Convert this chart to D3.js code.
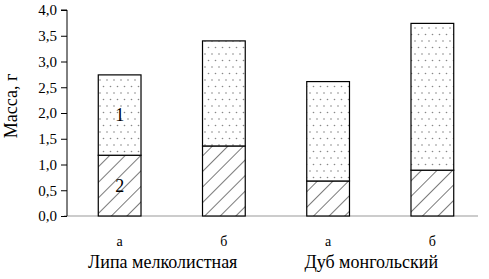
<!DOCTYPE html>
<html>
<head>
<meta charset="utf-8">
<script src="https://cdn.jsdelivr.net/npm/d3@7"></script>
<style>
  body { margin: 0; background: #fff; }
  svg text { font-family: "Liberation Serif", "DejaVu Serif", serif !important; fill: #000; }
</style>
</head>
<body>
<svg id="chart" width="489" height="279"></svg>
<script>
// data
const bars = ['а', 'б', 'а', 'б'];
const groups = ['Липа мелколистная', 'Дуб монгольский'];
const part2 = [1.18, 1.36, 0.68, 0.89];   // lower hatched part
const part1 = [1.56, 2.04, 1.93, 2.85];   // upper dotted part
const yTicks = [0, 0.5, 1, 1.5, 2, 2.5, 3, 3.5, 4];

const svg = d3.select('#chart');
const mLeft = 67, mRight = 485, mTop = 10, mBottom = 216;
const serif = '"Liberation Serif", serif';

let x = d3.scaleBand().domain(d3.range(bars.length)).range([mLeft, mRight]).paddingInner(0.59).paddingOuter(0.3);
let y = d3.scaleLinear().domain([0, 4]).range([mBottom, mTop]);

// patterns
let defs = svg.append('defs');
let dots = defs.append('pattern').attr('id', 'dots').attr('patternUnits', 'userSpaceOnUse')
    .attr('width', 7).attr('height', 13);
dots.append('rect').attr('width', 7).attr('height', 13).attr('fill', '#fff');
dots.append('circle').attr('cx', 2).attr('cy', 2).attr('r', 0.8).attr('fill', '#888');
dots.append('circle').attr('cx', 5.5).attr('cy', 8.5).attr('r', 0.8).attr('fill', '#888');

let hatch = defs.append('pattern').attr('id', 'hatch').attr('patternUnits', 'userSpaceOnUse')
    .attr('width', 11).attr('height', 11).attr('patternTransform', 'rotate(45)');
hatch.append('rect').attr('width', 11).attr('height', 11).attr('fill', '#fff');
hatch.append('line').attr('x1', 0).attr('y1', 0).attr('x2', 0).attr('y2', 11)
    .attr('stroke', '#333').attr('stroke-width', 1.3);

// baseline
svg.append('line').attr('x1', mLeft - 3).attr('x2', 478).attr('y1', y(0)).attr('y2', y(0))
    .attr('stroke', '#999').attr('stroke-width', 1);

// y axis
let yAxis = d3.axisLeft(y).tickValues(yTicks).tickSize(6).tickPadding(4)
    .tickFormat(d => d3.format('.1f')(d).replace('.', ','));
let ga = svg.append('g').attr('transform', `translate(${mLeft},0)`).call(yAxis)
    .attr('font-family', serif);
ga.select('.domain').attr('stroke', '#000').attr('d', `M-6,${y(4)}H0V${y(0)}`);
ga.selectAll('.tick line').attr('stroke', '#000');
ga.selectAll('.tick text').style('font-size', '15px').attr('fill', '#000');

svg.append('text').attr('transform', `translate(17,106) rotate(-90)`)
    .attr('text-anchor', 'middle').style('font-size', '18px').text('Масса, г');

// bars
let bw = x.bandwidth();
svg.selectAll('.low').data(part2).enter().append('rect')
    .attr('x', (d, i) => x(i)).attr('width', bw)
    .attr('y', d => y(d)).attr('height', d => y(0) - y(d))
    .attr('fill', 'url(#hatch)').attr('stroke', '#000').attr('stroke-width', 1.2);
svg.selectAll('.up').data(part1).enter().append('rect')
    .attr('x', (d, i) => x(i)).attr('width', bw)
    .attr('y', (d, i) => y(d + part2[i])).attr('height', (d, i) => y(part2[i]) - y(d + part2[i]))
    .attr('fill', 'url(#dots)').attr('stroke', '#000').attr('stroke-width', 1.2);

// segment labels on first bar
let cx0 = x(0) + bw / 2;
svg.append('text').attr('x', cx0).attr('y', y(part2[0] + part1[0] / 2) + 6)
    .attr('text-anchor', 'middle').style('font-size', '18px').text('1');
svg.append('text').attr('x', cx0).attr('y', y(part2[0] / 2) + 6)
    .attr('text-anchor', 'middle').style('font-size', '18px').text('2');

// category labels
svg.selectAll('.cat').data(bars).enter().append('text')
    .attr('x', (d, i) => x(i) + bw / 2).attr('y', 246)
    .attr('text-anchor', 'middle').style('font-size', '14px').text(d => d);
svg.selectAll('.grp').data(groups).enter().append('text')
    .attr('x', (d, i) => (x(2 * i) + x(2 * i + 1) + bw) / 2 - 9).attr('y', 268)
    .attr('text-anchor', 'middle').style('font-size', '18px').text(d => d);
</script>
</body>
</html>
